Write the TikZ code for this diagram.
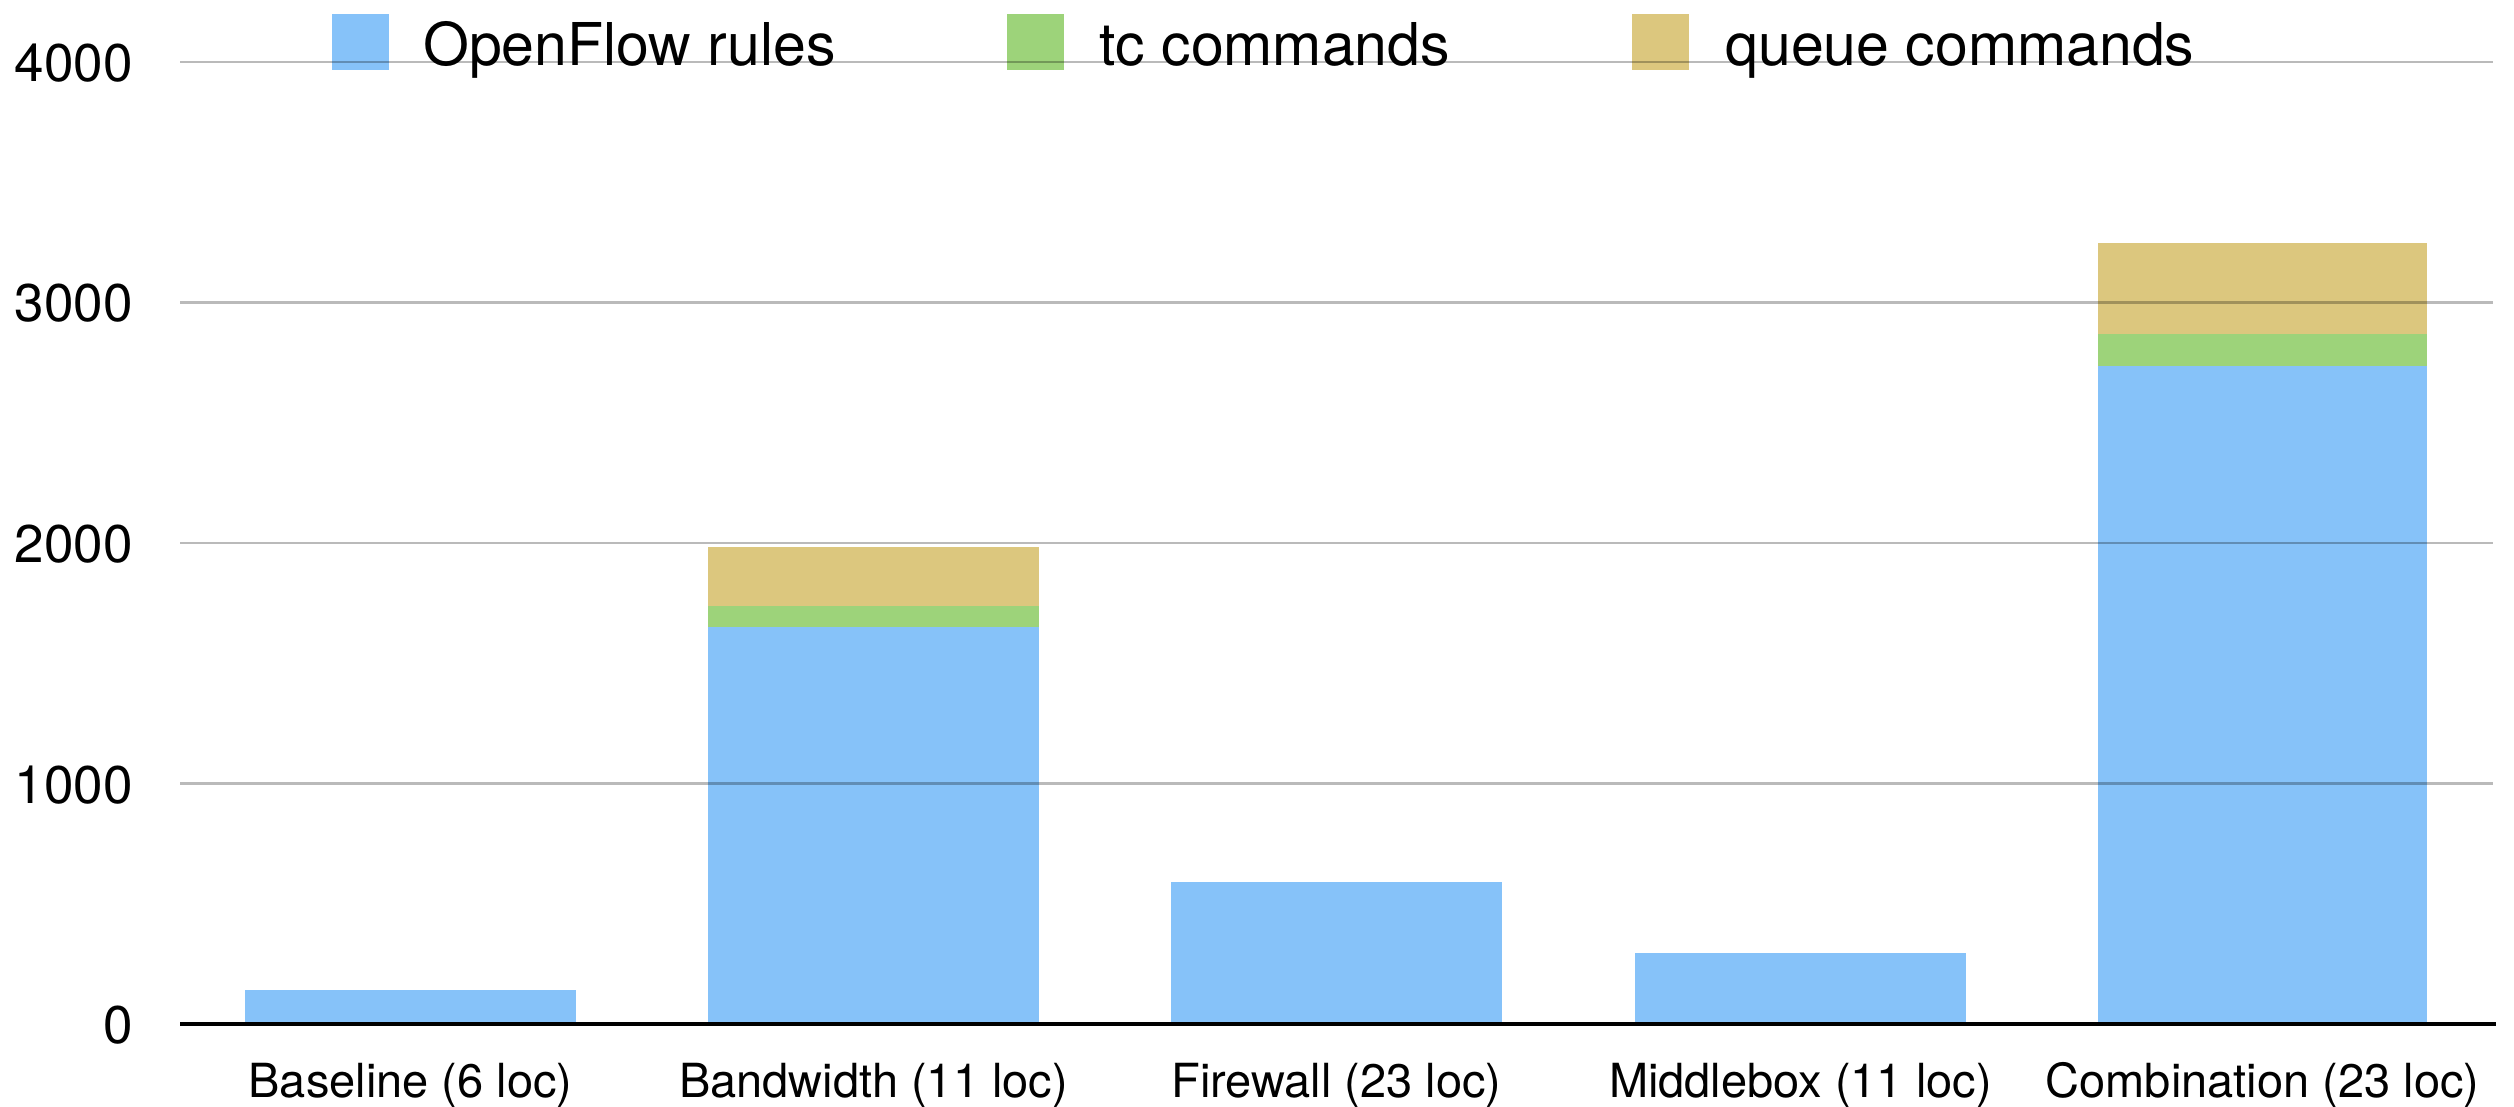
\documentclass[tikz,border=0pt]{standalone}
\usepackage{fontspec}
\setmainfont{TeX Gyre Heros}

\definecolor{ofblue}{RGB}{134,194,249}
\definecolor{tcgreen}{RGB}{157,211,122}
\definecolor{qyellow}{RGB}{220,199,126}

\begin{document}
\begin{tikzpicture}[x=1pt, y=-1pt,
    gridline/.style={line width=2.5pt, black, opacity=0.27},
    ticklabel/.style={anchor=base east, inner sep=0pt, font=\fontsize{53}{60}\selectfont},
    barlabel/.style={anchor=base, inner sep=0pt, font=\fontsize{47}{52}\selectfont},
    legendlabel/.style={anchor=base west, inner sep=0pt, font=\fontsize{59}{66}\selectfont}]
\useasboundingbox (0,0) rectangle (2514,1107);

% Data area: origin on the axis, one unit per command
\begin{scope}[shift={(0,1024)}, y=0.2405pt]
% Baseline
\fill[ofblue] (245,0) rectangle (576,142);
% Bandwidth
\fill[ofblue] (708,0) rectangle (1039,1650);
\fill[tcgreen] (708,1650) rectangle (1039,1738);
\fill[qyellow] (708,1738) rectangle (1039,1983);
% Firewall
\fill[ofblue] (1171,0) rectangle (1502,590);
% Middlebox
\fill[ofblue] (1635,0) rectangle (1966,296);
% Combination
\fill[ofblue] (2098,0) rectangle (2427,2736);
\fill[tcgreen] (2098,2736) rectangle (2427,2869);
\fill[qyellow] (2098,2869) rectangle (2427,3247);
\end{scope}

% Legend keys
\fill[ofblue] (332,14) rectangle (389,70);
\fill[tcgreen] (1007,14) rectangle (1064,70);
\fill[qyellow] (1632,14) rectangle (1689,70);

% Grid
\begin{scope}[shift={(0,1024)}, y=0.2405pt]
\draw[gridline] (180,1000) -- (2493,1000);
\draw[gridline] (180,2000) -- (2493,2000);
\draw[gridline] (180,3000) -- (2493,3000);
\draw[gridline] (180,4000) -- (2493,4000);
\end{scope}

% Axis
\draw[line width=3.5pt] (180,1024) -- (2496,1024);

% Tick labels
\node[ticklabel] (t0) at (133,1043.5) {0};
\node[ticklabel] (t1) at (133,803) {1000};
\node[ticklabel] (t2) at (133,562.5) {2000};
\node[ticklabel] (t3) at (133,322) {3000};
\node[ticklabel] (t4) at (133,81.5) {4000};

% Category labels
\node[barlabel] (baseline) at (410.5,1097) {Baseline (6 loc)};
\node[barlabel] (bandwidth) at (873.5,1097) {Bandwidth (11 loc)};
\node[barlabel] (firewall) at (1336.5,1097) {Firewall (23 loc)};
\node[barlabel] (middlebox) at (1800.5,1097) {Middlebox (11 loc)};
\node[barlabel] (combination) at (2262.5,1097) {Combination (23 loc)};

% Legend
\node[legendlabel] (ofrules) at (423,66) {OpenFlow rules};
\node[legendlabel] (tccmds) at (1099,66) {tc commands};
\node[legendlabel] (queuecmds) at (1725,66) {queue commands};
\end{tikzpicture}
\end{document}
